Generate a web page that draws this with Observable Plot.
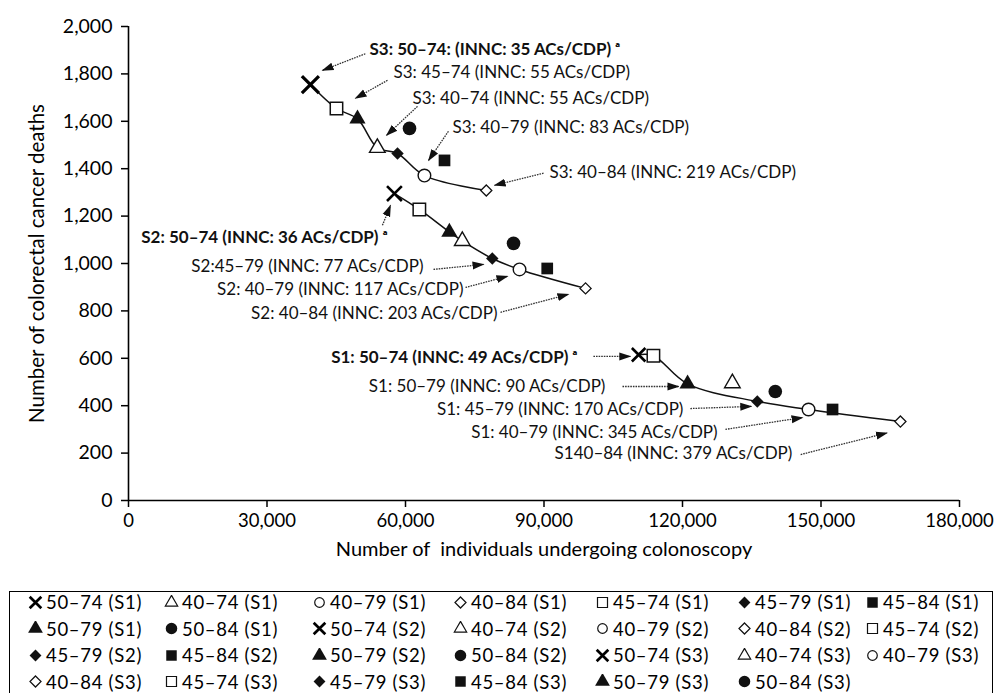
<!DOCTYPE html>
<html>
<head>
<meta charset="utf-8">
<script src="https://cdn.jsdelivr.net/npm/d3@7"></script>
<script src="https://cdn.jsdelivr.net/npm/@observablehq/plot@0.6"></script>
<style>
  body { margin: 0; background: #fff; font-family: Lato, "Open Sans", sans-serif; color: #000; }
  #chart { position: absolute; left: 0; top: 0; }
  #legend {
    position: absolute; left: 9px; top: 591px; width: 984px; height: 110px;
    border: 1.5px solid #000; box-sizing: border-box;
    display: grid; grid-template-columns: 136px 148px 141px 142px 142px 128px 120px;
    grid-auto-rows: 26.5px; padding-left: 18px; padding-top: 0; margin-top: 0;
    font-size: 18.5px; letter-spacing: 0.7px; color: #000;
  }
  .item { display: flex; align-items: center; gap: 3px; white-space: nowrap; position: relative; top: -3px; }
  .item svg { flex: none; }
</style>
</head>
<body>
<div id="chart"></div>
<div id="legend"></div>
<script>
// ---------------- data ----------------
const strategies = ["50–74", "40–74", "40–79", "40–84", "45–74", "45–79", "45–84", "50–79", "50–84"];

const s1Colonoscopies = [110500, 130800, 147300, 167200, 113700, 136200, 152500, 121100, 140100];
const s1Deaths        = [615, 495, 384, 333, 611, 418, 384, 492, 460];

const s2Colonoscopies = [57600, 72300, 84700, 99000, 63000, 78800, 90700, 69500, 83400];
const s2Deaths        = [1295, 1095, 975, 895, 1228, 1021, 979, 1133, 1085];

const s3Colonoscopies = [39400, 53900, 64100, 77500, 45050, 58270, 68450, 49600, 60870];
const s3Deaths        = [1755, 1488, 1371, 1308, 1654, 1464, 1435, 1610, 1570];

// efficient-frontier order for each scenario's connecting line
const s1Frontier = ["50–74", "45–74", "50–79", "45–79", "40–79", "40–84"];
const s2Frontier = ["50–74", "45–74", "50–79", "40–74", "45–79", "40–79", "40–84"];
const s3Frontier = ["50–74", "45–74", "50–79", "40–74", "45–79", "40–79", "40–84"];

const xTicks = [0, 30000, 60000, 90000, 120000, 150000, 180000];
const yTicks = [0, 200, 400, 600, 800, 1000, 1200, 1400, 1600, 1800, 2000];

const xTitle = "Number of\u00a0 individuals undergoing colonoscopy";
const yTitle = "Number of colorectal cancer deaths";

// annotations (label anchor and arrow ends in data units)
const annotationLabels = [
  "S3: 50–74: (INNC: 35 ACs/CDP) ᵃ",
  "S3: 45–74 (INNC: 55 ACs/CDP)",
  "S3: 40–74 (INNC: 55 ACs/CDP)",
  "S3: 40–79 (INNC: 83 ACs/CDP)",
  "S3: 40–84 (INNC: 219 ACs/CDP)",
  "S2: 50–74 (INNC: 36 ACs/CDP) ᵃ",
  "S2:45–79 (INNC: 77 ACs/CDP)",
  "S2: 40–79 (INNC: 117 ACs/CDP)",
  "S2: 40–84 (INNC: 203 ACs/CDP)",
  "S1: 50–74 (INNC: 49 ACs/CDP) ᵃ",
  "S1: 50–79 (INNC: 90 ACs/CDP)",
  "S1: 45–79 (INNC: 170 ACs/CDP)",
  "S1: 40–79 (INNC: 345 ACs/CDP)",
  "S140–84 (INNC: 379 ACs/CDP)"
];
const annotationBold   = [true, false, false, false, false, true, false, false, false, true, false, false, false, false];
const annotationAnchor = ["start", "start", "start", "start", "start", "end", "end", "end", "end", "end", "end", "end", "end", "end"];
const annotationX  = [52200, 57400, 61500, 70200, 91200, 56100, 63900, 72560, 79930, 97250, 103300, 120200, 127600, 143800];
const annotationY  = [1902, 1807, 1697, 1575, 1385, 1110, 988, 891, 790, 604, 481, 384, 287, 198];
const arrowX1 = [51300, 56100, 62600, 69300, 89900, 55000, 66060, 73000, 80580, 100700, 107000, 121700, 129300, 145600];
const arrowY1 = [1885, 1773, 1663, 1558, 1381, 1161, 975, 899, 794, 608, 481, 388, 300, 194];
const arrowX2 = [42020, 49170, 55900, 65000, 79300, 56750, 76900, 82100, 95300, 108700, 119130, 134900, 146000, 164300];
const arrowY2 = [1815, 1697, 1541, 1435, 1330, 1245, 996, 946, 870, 608, 481, 397, 350, 285];

// legend (row-major, 7 per row)
const legendStrategy = [
  "50–74", "40–74", "40–79", "40–84", "45–74", "45–79", "45–84",
  "50–79", "50–84", "50–74", "40–74", "40–79", "40–84", "45–74",
  "45–79", "45–84", "50–79", "50–84", "50–74", "40–74", "40–79",
  "40–84", "45–74", "45–79", "45–84", "50–79", "50–84"
];
const legendScenario = [
  "S1", "S1", "S1", "S1", "S1", "S1", "S1",
  "S1", "S1", "S2", "S2", "S2", "S2", "S2",
  "S2", "S2", "S2", "S2", "S3", "S3", "S3",
  "S3", "S3", "S3", "S3", "S3", "S3"
];

// ---------------- tables ----------------
const scenarioData = {
  S1: {x: s1Colonoscopies, y: s1Deaths, frontier: s1Frontier},
  S2: {x: s2Colonoscopies, y: s2Deaths, frontier: s2Frontier},
  S3: {x: s3Colonoscopies, y: s3Deaths, frontier: s3Frontier}
};
const points = [];
for (const [scenario, d] of Object.entries(scenarioData)) {
  strategies.forEach((s, i) => points.push({scenario, strategy: s, x: d.x[i], y: d.y[i]}));
}
const lines = [];
for (const [scenario, d] of Object.entries(scenarioData)) {
  d.frontier.forEach((s, k) => {
    const i = strategies.indexOf(s);
    lines.push({scenario, order: k, x: d.x[i], y: d.y[i]});
  });
}
const annotations = annotationLabels.map((t, i) => ({
  text: t, bold: annotationBold[i], anchor: annotationAnchor[i],
  x: annotationX[i], y: annotationY[i],
  x1: arrowX1[i], y1: arrowY1[i], x2: arrowX2[i], y2: arrowY2[i]
}));

// symbol styles per strategy
const style = {
  "50–74": {symbol: "times",    d3s: d3.symbolTimes,    filled: false, r: 6.5, lsize: 90,  sw: 2.6, lsw: 2.7},
  "40–74": {symbol: "triangle", d3s: d3.symbolTriangle, filled: false, r: 5.8, lsize: 66,  sw: 1.4, lsw: 1.2},
  "40–79": {symbol: "circle",   d3s: d3.symbolCircle,   filled: false, r: 6.3, lsize: 72,  sw: 1.4, lsw: 1.2},
  "40–84": {symbol: "diamond2", d3s: d3.symbolDiamond2, filled: false, r: 5.0, lsize: 78,  sw: 1.3, lsw: 1.2},
  "45–74": {symbol: "square",   d3s: d3.symbolSquare,   filled: false, r: 7.0, lsize: 100, sw: 1.5, lsw: 1.2},
  "45–79": {symbol: "diamond2", d3s: d3.symbolDiamond2, filled: true,  r: 5.6, lsize: 90,  sw: 0},
  "45–84": {symbol: "square",   d3s: d3.symbolSquare,   filled: true,  r: 6.6, lsize: 110, sw: 0},
  "50–79": {symbol: "triangle", d3s: d3.symbolTriangle, filled: true,  r: 6.0, lsize: 95,  sw: 0},
  "50–84": {symbol: "circle",   d3s: d3.symbolCircle,   filled: true,  r: 6.8, lsize: 105, sw: 0}
};

const dotMarks = [];
for (const s of strategies) {
  const st = style[s];
  if (s === "50–74") {
    for (const [sc, r, sw] of [["S1", 6.2, 2.6], ["S2", 6.8, 2.6], ["S3", 7.8, 3.2]]) {
      dotMarks.push(Plot.dot(points.filter(p => p.strategy === s && p.scenario === sc),
        {x: "x", y: "y", symbol: "times", r, stroke: "#000", strokeWidth: sw, fill: "none"}));
    }
  } else if (st.filled) {
    dotMarks.push(Plot.dot(points.filter(p => p.strategy === s),
      {x: "x", y: "y", symbol: st.symbol, r: st.r, fill: "#111", stroke: "none"}));
  } else {
    dotMarks.push(Plot.dot(points.filter(p => p.strategy === s),
      {x: "x", y: "y", symbol: st.symbol, r: st.r, fill: "#fff", stroke: "#111", strokeWidth: st.sw}));
  }
}

const textMarks = [];
for (const anchor of ["start", "end"]) {
  for (const bold of [false, true]) {
    textMarks.push(Plot.text(annotations.filter(a => a.anchor === anchor && a.bold === bold), {
      x: "x", y: "y", text: "text", textAnchor: anchor,
      fontWeight: bold ? "bold" : "normal", fontSize: 17, fill: "#111"
    }));
  }
}

const chart = Plot.plot({
  width: 1001,
  height: 588,
  marginTop: 26,
  marginBottom: 88,
  marginLeft: 128,
  marginRight: 42,
  style: {fontFamily: "Lato, 'Open Sans', sans-serif", fontSize: "17px", color: "#000", background: "#fff", overflow: "visible"},
  x: {domain: [0, 180000]},
  y: {domain: [0, 2000]},
  marks: [
    Plot.axisX({ticks: xTicks, tickFormat: d3.format(","), tickSize: 7, tickPadding: 6, strokeWidth: 1.5, fontSize: 18.5, label: null}),
    Plot.axisY({ticks: yTicks, tickFormat: d3.format(","), tickSize: 7, tickPadding: 9, strokeWidth: 1.5, fontSize: 19.5, label: null}),
    Plot.ruleX([0], {y1: 0, y2: 2000, stroke: "#000", strokeWidth: 1.6}),
    Plot.ruleY([0], {x1: 0, x2: 180000, stroke: "#000", strokeWidth: 1.6}),
    Plot.line(lines, {x: "x", y: "y", z: "scenario", curve: "catmull-rom", stroke: "#111", strokeWidth: 1.5}),
    ...dotMarks,
    Plot.link(annotations, {x1: "x1", y1: "y1", x2: "x2", y2: "y2", stroke: "#333", strokeWidth: 1.3, strokeDasharray: "1.6,1"}),
    ...textMarks,
    Plot.text([xTitle], {text: d => d, frameAnchor: "bottom", dy: 55, fontSize: 20}),
    Plot.text([yTitle], {text: d => d, frameAnchor: "left", textAnchor: "middle", dx: -91, rotate: -90, fontSize: 20.5})
  ]
});
document.getElementById("chart").appendChild(chart);

// filled arrowheads for the annotation links
const svg = chart.tagName.toLowerCase() === "svg" ? chart : chart.querySelector("svg");
const ns = "http://www.w3.org/2000/svg";
const defs = document.createElementNS(ns, "defs");
const marker = document.createElementNS(ns, "marker");
marker.setAttribute("id", "ahead");
marker.setAttribute("viewBox", "0 0 12 12");
marker.setAttribute("refX", "11");
marker.setAttribute("refY", "6");
marker.setAttribute("markerUnits", "userSpaceOnUse");
marker.setAttribute("markerWidth", "12");
marker.setAttribute("markerHeight", "12");
marker.setAttribute("orient", "auto");
const mp = document.createElementNS(ns, "path");
mp.setAttribute("d", "M0,2L12,6L0,10Z");
mp.setAttribute("fill", "#111");
marker.appendChild(mp);
defs.appendChild(marker);
svg.insertBefore(defs, svg.firstChild);
svg.querySelectorAll('g[aria-label="link"] path').forEach(p => p.setAttribute("marker-end", "url(#ahead)"));

// legend
const legend = document.getElementById("legend");
legendStrategy.forEach((s, i) => {
  const st = style[s];
  const item = document.createElement("div");
  item.className = "item";
  const path = d3.symbol(st.d3s, st.lsize)();
  const attrs = s === "50–74"
    ? `fill="none" stroke="#000" stroke-width="${st.lsw}"`
    : st.filled ? `fill="#111"` : `fill="#fff" stroke="#111" stroke-width="${st.lsw}"`;
  item.innerHTML = `<svg width="15" height="15" viewBox="-7.5 -7.5 15 15"><path d="${path}" ${attrs}/></svg><span>${s} (${legendScenario[i]})</span>`;
  legend.appendChild(item);
});
</script>
</body>
</html>
